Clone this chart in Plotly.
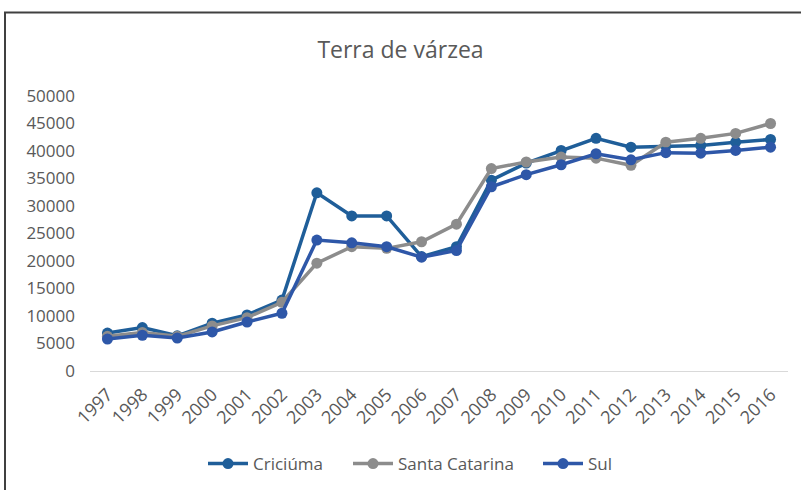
import plotly.graph_objects as go

years = [str(y) for y in range(1997, 2017)]

criciuma = [6900, 7900, 6400, 8700, 10200, 12900, 32400, 28200, 28200, 20800,
            22600, 34700, 37800, 40100, 42300, 40700, 40900, 41000, 41600, 42100]
santa_catarina = [6300, 7000, 6300, 8200, 9700, 12500, 19600, 22600, 22300, 23500,
                  26700, 36800, 38000, 38900, 38700, 37400, 41600, 42300, 43200, 45000]
sul = [5800, 6500, 6000, 7100, 8900, 10500, 23800, 23300, 22600, 20700,
       21900, 33500, 35700, 37500, 39500, 38400, 39700, 39600, 40100, 40700]

series = [
    ("Criciúma", criciuma, "#1F5E99", "legend", 203),
    ("Santa Catarina", santa_catarina, "#8C8C8C", "legend2", 348),
    ("Sul", sul, "#2E57A8", "legend3", 538),
]

W, H = 801, 490
L, R, T, B = 90, 13, 95.7, 119

def px(x):
    return (x - L) / (W - L - R)

def py(y):
    return (H - B - y) / (H - B - T)

fig = go.Figure()
legend_layouts = {}
for name, vals, color, leg, leg_x in series:
    fig.add_trace(go.Scatter(
        x=years, y=vals, name=name, mode="lines+markers",
        line=dict(color=color, width=3.5),
        marker=dict(color=color, size=11),
        legend=leg,
    ))
    legend_layouts[leg] = dict(
        orientation="h", x=leg_x / W, xref="container", xanchor="left",
        y=(H - 464) / H, yref="container", yanchor="middle",
        font=dict(size=17, color="#595959"), itemwidth=40,
        bgcolor="rgba(0,0,0,0)",
    )

fig.update_layout(
    width=W, height=H,
    margin=dict(l=L, r=R, t=T, b=B),
    paper_bgcolor="white", plot_bgcolor="white",
    font=dict(family="Open Sans", color="#595959"),
    title=dict(text="Terra de várzea", x=0.5, xanchor="center",
               y=1 - 50 / H, yanchor="middle",
               font=dict(size=23, color="#595959", family="Open Sans")),
    showlegend=True,
    xaxis=dict(type="category", tickangle=-45, tickfont=dict(size=18, color="#595959"),
               showgrid=False, showline=True, linecolor="#D9D9D9", linewidth=1,
               ticks="", zeroline=False, range=[-0.5, 19.5], ticklabelstandoff=5),
    yaxis=dict(range=[0, 50000], tickvals=list(range(0, 50001, 5000)),
               tickformat="d",
               tickfont=dict(size=17, color="#595959"), showgrid=False,
               zeroline=False, showline=False, ticks="", ticklabelstandoff=14),
    **legend_layouts,
)

# outer chart frame (continues past the right and bottom edges)
fig.add_shape(type="rect", xref="paper", yref="paper",
              x0=px(5), x1=px(830), y0=py(520), y1=py(12),
              line=dict(color="#404040", width=2), layer="above")

fig.write_html("out.html")
